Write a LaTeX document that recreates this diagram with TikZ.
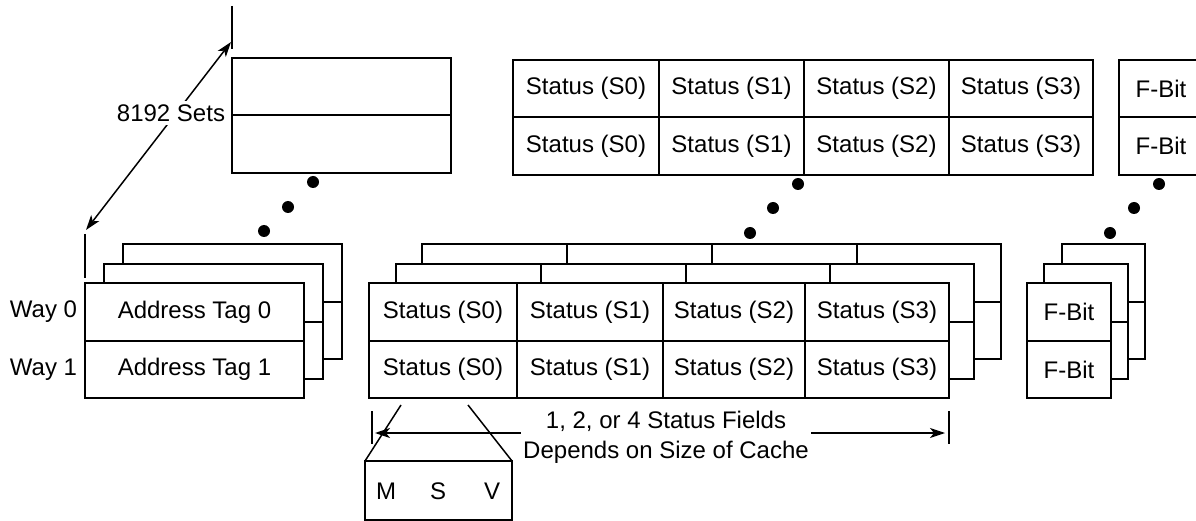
\documentclass[tikz,border=0pt]{standalone}
\usepackage{fontspec}
\setmainfont{Liberation Sans}
\usetikzlibrary{arrows.meta}
\begin{document}
\begin{tikzpicture}[x=1pt,y=-1pt,
  txt/.style={font=\fontsize{24}{28}\selectfont, inner sep=0pt, outer sep=0pt},
  cell/.style={txt, draw=black, line width=2pt, minimum height=57.5pt},
  edge/.style={draw=black, line width=2pt},
  dim/.style={draw=black, line width=1.5pt, {Stealth[length=15pt,width=10pt,inset=4pt]}-{Stealth[length=15pt,width=10pt,inset=4pt]}},
  dotnode/.style={circle, fill=black, minimum size=12pt, inner sep=0pt, outer sep=0pt}
]
\useasboundingbox (0,0) rectangle (1196,521);
\clip (0,0) rectangle (1196,521);

% ---- 8192 Sets dimension ----
\coordinate (tkA1) at (232,6);   \coordinate (tkA2) at (232,49);
\coordinate (tkB1) at (85,234);  \coordinate (tkB2) at (85,278);
\coordinate (setsLo) at (86,230); \coordinate (setsHi) at (231,42);
\draw[edge] (tkA1) -- (tkA2);
\draw[edge] (tkB1) -- (tkB2);
\draw[dim] (setsLo) -- (setsHi);
\node[txt, fill=white, inner xsep=1pt, inner ysep=4pt] (sets) at (171,113) {8192 Sets};

% ---- Address tag: back set ----
\node[cell, minimum width=219pt] (atb0) at (341.5,86.75) {};
\node[cell, minimum width=219pt] (atb1) at (341.5,144.25) {};
\node[dotnode] (ad1) at (313,182) {};
\node[dotnode] (ad2) at (288,207) {};
\node[dotnode] (ad3) at (264,231) {};

% ---- Address tag: stacked layers ----
\draw[edge] (123,264) -- (123,244) -- (342,244) -- (342,359) -- (323,359);
\draw[edge] (323,301.5) -- (342,301.5);
\draw[edge] (104,283) -- (104,264) -- (323,264) -- (323,379) -- (304,379);
\draw[edge] (304,321.5) -- (323,321.5);
\node[cell, minimum width=219pt] (at0) at (194.5,312) {Address Tag 0};
\node[cell, minimum width=219pt] (at1) at (194.5,369.5) {Address Tag 1};
\node[txt] (way0) at (43.5,312) {Way 0};
\node[txt] (way1) at (43.5,369.5) {Way 1};

% ---- Status: back set ----
\node[cell, minimum width=146pt] (sb00) at (586,88.75) {Status (S0)};
\node[cell, minimum width=145pt] (sb01) at (731.5,88.75) {Status (S1)};
\node[cell, minimum width=145pt] (sb02) at (876.5,88.75) {Status (S2)};
\node[cell, minimum width=144pt] (sb03) at (1021,88.75) {Status (S3)};
\node[cell, minimum width=146pt] (sb10) at (586,146.25) {Status (S0)};
\node[cell, minimum width=145pt] (sb11) at (731.5,146.25) {Status (S1)};
\node[cell, minimum width=145pt] (sb12) at (876.5,146.25) {Status (S2)};
\node[cell, minimum width=144pt] (sb13) at (1021,146.25) {Status (S3)};
\node[dotnode] (sd1) at (798,184) {};
\node[dotnode] (sd2) at (773,208) {};
\node[dotnode] (sd3) at (750,233) {};

% ---- Status: stacked layers ----
\draw[edge] (422,264) -- (422,244) -- (1001,244) -- (1001,359) -- (974,359);
\draw[edge] (974,301.5) -- (1001,301.5);
\foreach \x in {567,712,857} \draw[edge] (\x,244) -- (\x,264);
\draw[edge] (396,283) -- (396,264) -- (974,264) -- (974,379) -- (949,379);
\draw[edge] (949,321.5) -- (974,321.5);
\foreach \x in {541,686,830} \draw[edge] (\x,264) -- (\x,283);
\node[cell, minimum width=148pt] (s00) at (443,312) {Status (S0)};
\node[cell, minimum width=146pt] (s01) at (590,312) {Status (S1)};
\node[cell, minimum width=142pt] (s02) at (734,312) {Status (S2)};
\node[cell, minimum width=144pt] (s03) at (877,312) {Status (S3)};
\node[cell, minimum width=148pt] (s10) at (443,369.5) {Status (S0)};
\node[cell, minimum width=146pt] (s11) at (590,369.5) {Status (S1)};
\node[cell, minimum width=142pt] (s12) at (734,369.5) {Status (S2)};
\node[cell, minimum width=144pt] (s13) at (877,369.5) {Status (S3)};

% ---- F-Bit: back set ----
\node[cell, minimum width=84pt] (fb0) at (1161,88.75) {F-Bit};
\node[cell, minimum width=84pt] (fb1) at (1161,146.25) {F-Bit};
\node[dotnode] (fd1) at (1159,184) {};
\node[dotnode] (fd2) at (1134,208) {};
\node[dotnode] (fd3) at (1110,233) {};

% ---- F-Bit: stacked layers ----
\draw[edge] (1062,264) -- (1062,244) -- (1145,244) -- (1145,359) -- (1128,359);
\draw[edge] (1128,301.5) -- (1145,301.5);
\draw[edge] (1044,283) -- (1044,264) -- (1128,264) -- (1128,379) -- (1111,379);
\draw[edge] (1111,321.5) -- (1128,321.5);
\node[cell, minimum width=84pt] (f0) at (1069,312) {F-Bit};
\node[cell, minimum width=84pt] (f1) at (1069,369.5) {F-Bit};

% ---- Status fields dimension ----
\coordinate (tkC1) at (372,411); \coordinate (tkC2) at (372,444);
\coordinate (tkD1) at (949,411); \coordinate (tkD2) at (949,444);
\coordinate (dimL) at (375,433); \coordinate (dimR) at (945,433);
\draw[edge] (tkC1) -- (tkC2);
\draw[edge] (tkD1) -- (tkD2);
\draw[dim] (dimL) -- (dimR);
\node[txt, fill=white, align=center, inner xsep=2pt, font=\fontsize{24}{30}\selectfont] (dimtxt) at (666,437) {1, 2, or 4 Status Fields\\Depends on Size of Cache};

% ---- M S V detail ----
\node[cell, minimum width=147pt, minimum height=59pt] (msv) at (438.5,490.5) {};
\node[txt] (mM) at (386,491) {M};
\node[txt] (mS) at (438,491) {S};
\node[txt] (mV) at (492,491) {V};
\coordinate (zl) at (401,405);
\coordinate (zr) at (468,405);
\draw[draw=black, line width=1.5pt] (zl) -- (msv.north west);
\draw[draw=black, line width=1.5pt] (zr) -- (msv.north east);
\end{tikzpicture}
\end{document}
